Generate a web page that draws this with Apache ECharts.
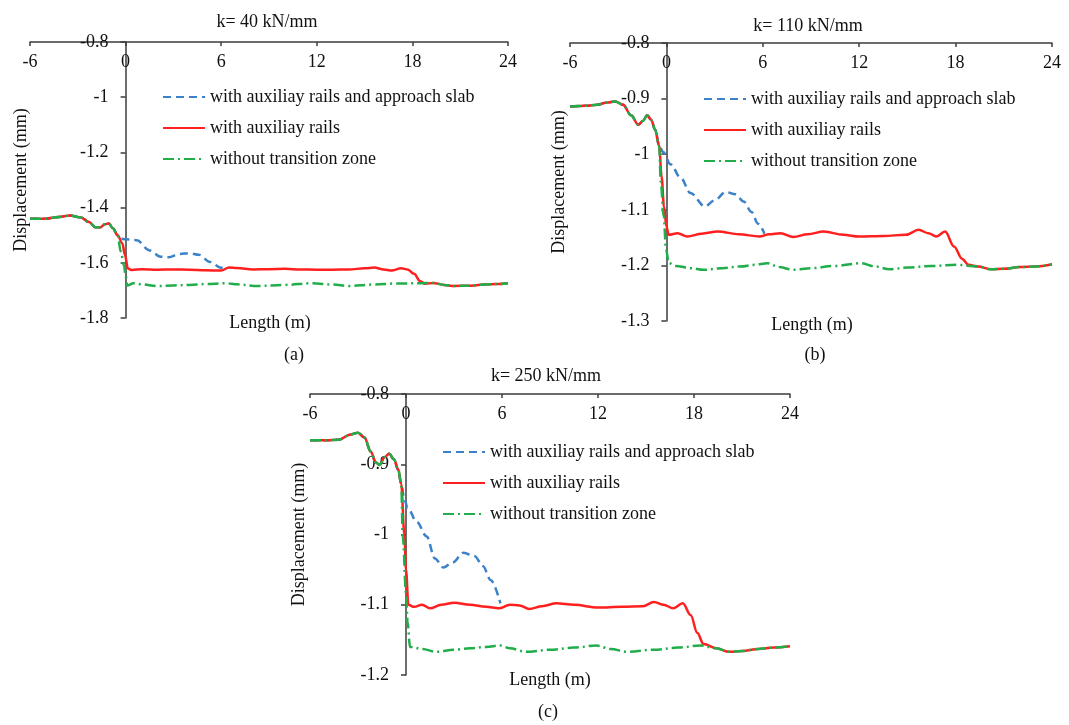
<!DOCTYPE html>
<html>
<head>
<meta charset="utf-8">
<title>Displacement vs length</title>
<script src="https://cdn.jsdelivr.net/npm/echarts@6/dist/echarts.min.js"></script>
<style>
  html, body { margin: 0; padding: 0; background: #fff; }
  #chart { width: 1069px; height: 725px; }
</style>
</head>
<body>
<div id="chart"></div>
<script>
const seriesNames = ['with auxiliay rails and approach slab', 'with auxiliay rails', 'without transition zone'];
const xTicks = [-6, 0, 6, 12, 18, 24];

// (a) k = 40 kN/mm
const commonLeftA = [[-6,-1.44],[-5,-1.44],[-4.2,-1.434],[-3.5,-1.429],[-2.8,-1.436],[-2.3,-1.452],[-1.9,-1.471],[-1.6,-1.472],[-1.3,-1.46],[-1.05,-1.458],[-0.8,-1.475],[-0.5,-1.5]];
const slabA = [[-0.3,-1.513],[0,-1.515],[0.7,-1.518],[1.5,-1.555],[2.2,-1.578],[2.7,-1.58],[3.4,-1.568],[4,-1.565],[4.6,-1.571],[5.3,-1.597],[6,-1.618],[6.4,-1.622]];
const railsA = [[-0.2,-1.53],[-0.05,-1.57],[0.15,-1.621],[0.4,-1.626],[1,-1.623],[2,-1.625],[3,-1.624],[4,-1.625],[5,-1.627],[6,-1.628],[6.5,-1.617],[7,-1.619],[8,-1.624],[9,-1.623],[10,-1.622],[11,-1.624],[12,-1.625],[13,-1.625],[14,-1.624],[15,-1.62],[15.6,-1.617],[16.2,-1.624],[16.7,-1.628],[17.3,-1.62],[17.7,-1.624],[18.1,-1.64],[18.5,-1.667],[18.8,-1.676],[19.3,-1.673]];
const noTzA = [[-0.3,-1.56],[-0.1,-1.61],[0,-1.645],[0.1,-1.682],[0.5,-1.674],[1,-1.678],[2,-1.684],[3,-1.682],[4,-1.68],[5,-1.677],[6.3,-1.674],[7,-1.678],[8.3,-1.684],[10,-1.68],[11.7,-1.674],[13,-1.679],[14,-1.684],[15.5,-1.679],[17,-1.675],[18.5,-1.674],[19.3,-1.673]];
const commonRightA = [[20,-1.68],[20.6,-1.684],[21.5,-1.683],[22.5,-1.679],[23.3,-1.677],[24,-1.674]];

// (b) k = 110 kN/mm
const commonLeftB = [[-6,-0.914],[-5,-0.913],[-4.3,-0.911],[-3.7,-0.907],[-3.2,-0.905],[-2.7,-0.911],[-2.2,-0.93],[-1.75,-0.947],[-1.45,-0.94],[-1.2,-0.93],[-0.95,-0.938],[-0.7,-0.956],[-0.45,-0.985]];
const slabB = [[-0.2,-0.996],[0.25,-1.018],[0.9,-1.043],[1.5,-1.07],[2.4,-1.094],[3,-1.083],[3.7,-1.068],[4.3,-1.072],[4.8,-1.085],[5.3,-1.104],[5.7,-1.125],[6.1,-1.143]];
const railsB = [[-0.3,-1.04],[-0.15,-1.094],[0,-1.13],[0.15,-1.145],[0.7,-1.142],[1.3,-1.148],[2.2,-1.143],[3.2,-1.139],[4.5,-1.144],[5.8,-1.148],[6.4,-1.144],[7.1,-1.142],[7.9,-1.149],[8.8,-1.144],[9.8,-1.139],[11,-1.145],[12,-1.148],[13.5,-1.147],[14.9,-1.145],[15.7,-1.136],[16.3,-1.142],[16.8,-1.148],[17.35,-1.139],[17.9,-1.166],[18.4,-1.188],[18.8,-1.199],[19.4,-1.202]];
const noTzB = [[-0.35,-1.05],[-0.17,-1.112],[-0.02,-1.172],[0.15,-1.196],[0.6,-1.201],[1.5,-1.205],[2.3,-1.208],[3.5,-1.205],[4.6,-1.202],[5.5,-1.199],[6.3,-1.196],[7,-1.203],[7.9,-1.208],[9,-1.205],[10.5,-1.201],[12.1,-1.196],[13,-1.202],[13.9,-1.207],[15,-1.204],[16.5,-1.201],[18.1,-1.199],[19.4,-1.202]];
const commonRightB = [[20.2,-1.207],[21,-1.206],[22,-1.203],[23,-1.202],[24,-1.198]];

// (c) k = 250 kN/mm
const commonLeftC = [[-6,-0.866],[-5,-0.866],[-4.2,-0.865],[-3.5,-0.858],[-3,-0.855],[-2.6,-0.862],[-2.2,-0.882],[-1.9,-0.897],[-1.65,-0.901],[-1.35,-0.89],[-1.05,-0.885],[-0.75,-0.893],[-0.48,-0.908],[-0.3,-0.928]];
const slabC = [[-0.1,-0.95],[0.1,-0.962],[0.67,-0.982],[1.3,-1.003],[1.8,-1.034],[2.35,-1.047],[2.9,-1.04],[3.6,-1.026],[4.3,-1.031],[4.8,-1.045],[5.3,-1.065],[5.9,-1.098]];
const railsC = [[-0.1,-1.0],[0,-1.05],[0.15,-1.1],[0.5,-1.103],[1,-1.1],[1.5,-1.105],[2.2,-1.1],[3,-1.097],[4,-1.1],[5,-1.103],[5.8,-1.105],[6.5,-1.1],[7.1,-1.101],[7.7,-1.106],[8.5,-1.102],[9.4,-1.098],[10.5,-1.1],[12,-1.104],[13.5,-1.103],[14.8,-1.102],[15.5,-1.096],[16.1,-1.1],[16.7,-1.105],[17.3,-1.098],[17.8,-1.115],[18.2,-1.14],[18.6,-1.156],[19.4,-1.162]];
const noTzC = [[-0.2,-1.003],[0,-1.083],[0.1,-1.125],[0.25,-1.16],[1,-1.163],[1.9,-1.167],[3,-1.164],[4,-1.162],[5,-1.16],[5.9,-1.158],[6.5,-1.162],[7.5,-1.167],[9,-1.164],[10.5,-1.161],[11.9,-1.158],[12.8,-1.163],[13.8,-1.167],[15.5,-1.164],[17,-1.161],[18.4,-1.158],[19.4,-1.162]];
const commonRightC = [[20.2,-1.167],[21,-1.166],[22,-1.163],[23,-1.161],[24,-1.159]];

const yRanges = [[-1.8, -0.8, 0.2], [-1.3, -0.8, 0.1], [-1.2, -0.8, 0.1]];

const FONT = '"Liberation Serif", "Times New Roman", serif';
const AXIS_COLOR = '#3c3c3c';

const panels = [
  { grid: { left: 30, top: 42, width: 478, height: 276 }, legend: { left: 157, top: 83 },
    left: commonLeftA, slab: slabA, rails: railsA, noTz: noTzA, right: commonRightA, nameGap: 95 },
  { grid: { left: 570, top: 43, width: 482, height: 278 }, legend: { left: 698, top: 85 },
    left: commonLeftB, slab: slabB, rails: railsB, noTz: noTzB, right: commonRightB, nameGap: 98 },
  { grid: { left: 310, top: 394, width: 480, height: 281 }, legend: { left: 437, top: 438 },
    left: commonLeftC, slab: slabC, rails: railsC, noTz: noTzC, right: commonRightC, nameGap: 98 }
];

const styles = [
  { color: '#3b82c8', type: [8, 5] },
  { color: '#ff1f1f', type: 'solid' },
  { color: '#1fae4a', type: [11, 4, 2, 4] }
];

const grids = [], xAxes = [], yAxes = [], series = [], legends = [];
panels.forEach((p, i) => {
  grids.push(Object.assign({ outerBoundsMode: 'none', containLabel: false }, p.grid));
  const xMin = xTicks[0], xMax = xTicks[xTicks.length - 1];
  // the y axis sits at x = 0, shifted right from the grid's left edge
  const zeroShift = p.grid.width * (0 - xMin) / (xMax - xMin);
  xAxes.push({
    gridIndex: i, type: 'value', position: 'top',
    min: xMin, max: xMax, interval: 6,
    axisLine: { onZero: false, lineStyle: { color: AXIS_COLOR, width: 1.5 } },
    axisTick: { inside: true, length: 4, lineStyle: { color: AXIS_COLOR, width: 1.5 } },
    axisLabel: { inside: true, margin: 11, color: '#111', fontFamily: FONT, fontSize: 18 },
    splitLine: { show: false }
  });
  yAxes.push({
    gridIndex: i, type: 'value', position: 'left', offset: -zeroShift,
    min: yRanges[i][0], max: yRanges[i][1], interval: yRanges[i][2],
    name: 'Displacement (mm)', nameLocation: 'middle', nameRotate: 90, nameGap: p.nameGap,
    nameTextStyle: { color: '#111', fontFamily: FONT, fontSize: 18 },
    axisLine: { onZero: false, lineStyle: { color: AXIS_COLOR, width: 1.5 } },
    axisTick: { length: 5, lineStyle: { color: AXIS_COLOR, width: 1.5 } },
    axisLabel: { margin: 17, color: '#111', fontFamily: FONT, fontSize: 18 },
    splitLine: { show: false }
  });
  const datasets = [
    p.left.concat(p.slab),
    p.left.concat(p.rails, p.right),
    p.left.concat(p.noTz, p.right)
  ];
  datasets.forEach((d, k) => {
    series.push({
      name: seriesNames[k], type: 'line', xAxisIndex: i, yAxisIndex: i,
      data: d, symbol: 'none', smooth: 0.35, smoothMonotone: 'x',
      lineStyle: { color: styles[k].color, width: 2.5, type: styles[k].type },
      itemStyle: { color: styles[k].color },
      z: 2 + k, silent: true
    });
  });
  legends.push({
    orient: 'vertical', left: p.legend.left, top: p.legend.top,
    itemWidth: 42, itemHeight: 14, itemGap: 13, selectedMode: false,
    itemStyle: { color: 'rgba(0,0,0,0)', borderWidth: 0 },
    textStyle: { color: '#111', fontFamily: FONT, fontSize: 18 },
    data: seriesNames
  });
});

const labels = [
  { text: 'k= 40 kN/mm', x: 267, y: 22 },
  { text: 'k= 110 kN/mm', x: 808, y: 26 },
  { text: 'k= 250 kN/mm', x: 546, y: 376 },
  { text: 'Length (m)', x: 270, y: 323 },
  { text: 'Length (m)', x: 812, y: 325 },
  { text: 'Length (m)', x: 550, y: 680 },
  { text: '(a)', x: 294, y: 355 },
  { text: '(b)', x: 815, y: 355 },
  { text: '(c)', x: 548, y: 712 }
];

const chart = echarts.init(document.getElementById('chart'));
chart.setOption({
  animation: false,
  backgroundColor: '#fff',
  grid: grids,
  xAxis: xAxes,
  yAxis: yAxes,
  legend: legends,
  series: series,
  graphic: labels.map(l => ({
    type: 'text', x: l.x, y: l.y, silent: true,
    style: { text: l.text, fill: '#111', font: '18px ' + FONT, textAlign: 'center', textVerticalAlign: 'middle' }
  }))
});
</script>
</body>
</html>
